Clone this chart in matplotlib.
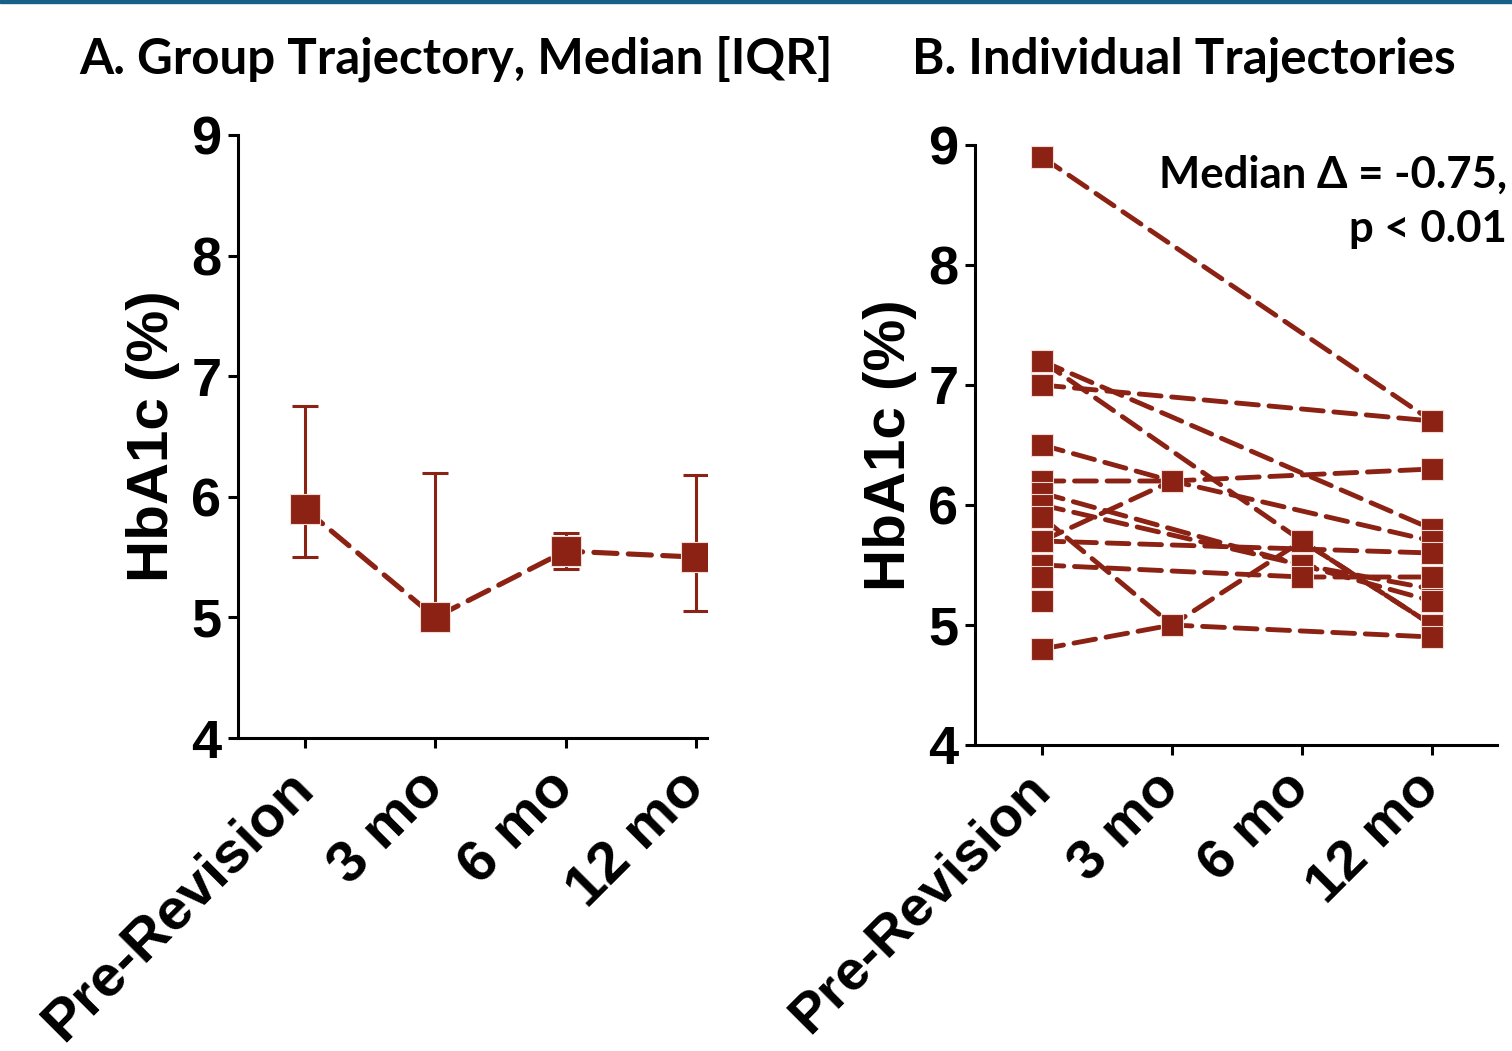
import numpy as np
import matplotlib
matplotlib.use('Agg')
import matplotlib.pyplot as plt
from matplotlib.patches import Rectangle

plt.rcParams['font.family'] = ['Liberation Sans', 'DejaVu Sans']
plt.rcParams['font.weight'] = 'bold'

times = ['Pre-Revision', '3 mo', '6 mo', '12 mo']

# A: median + IQR per time point
median = [5.9, 5.0, 5.55, 5.5]
q1 = [5.5, 5.0, 5.4, 5.05]
q3 = [6.75, 6.2, 5.7, 6.18]

# B: one entry per patient, nan = not measured
nan = np.nan
pre = [8.9, 7.2, 7.2, 7.0, 6.5, 6.2, 6.1, 6.0, 5.9, 5.7, 5.7, 5.5, 5.4, 5.2, 4.8]
mo3 = [nan, nan, nan, nan, 6.2, 6.2, nan, nan, 5.0, 6.2, nan, nan, nan, nan, 5.0]
mo6 = [nan, nan, 5.7, nan, nan, nan, 5.5, 5.5, 5.7, nan, nan, 5.4, nan, nan, nan]
mo12 = [6.7, 5.8, 5.0, 6.7, 5.7, 6.3, 5.3, 5.2, 5.0, nan, 5.6, 5.4, nan, nan, 4.9]

red = '#8b2213'
dash = (0, (4.5, 2.2))
x = np.arange(len(times))

fig = plt.figure(figsize=(15.12, 10.51), dpi=100)
fig.patches.append(Rectangle((0, 1 - 3 / 1051), 1, 3 / 1051, transform=fig.transFigure,
                             color='#186087', zorder=10))

axA = fig.add_axes([238 / 1512, 1 - 738 / 1051, 469 / 1512, 603 / 1051])
axB = fig.add_axes([975 / 1512, 1 - 745 / 1051, 522 / 1512, 600 / 1051])


def style(ax, xlim, xsize, xpad):
    ax.spines[['top', 'right']].set_visible(False)
    ax.spines[['left', 'bottom']].set_linewidth(2.2)
    ax.set_ylim(4, 9)
    ax.set_yticks(range(4, 10))
    ax.set_xlim(*xlim)
    ax.set_xticks(x)
    ax.set_xticklabels(times, rotation=45, ha='right', va='center', rotation_mode='anchor')
    ax.tick_params(width=2.2, length=7)
    ax.tick_params(axis='y', labelsize=39, pad=5)
    ax.tick_params(axis='x', labelsize=xsize, pad=xpad)
    ax.set_ylabel('HbA1c (%)', fontsize=42, fontweight='bold', labelpad=8)


# Panel A
med = np.array(median)
axA.errorbar(x, med, yerr=[med - np.array(q1), np.array(q3) - med], fmt='none',
             ecolor=red, elinewidth=2.2, capsize=9.5, capthick=2.2)
axA.plot(x, med, color=red, linestyle=dash, lw=3.7, dash_capstyle='round',
         marker='s', ms=21, mfc=red, mec='#f3dcd8', mew=0.8)
style(axA, (-0.512, 3.084), 42, 23)

# Panel B
for vals in zip(pre, mo3, mo6, mo12):
    v = np.array(vals)
    m = ~np.isnan(v)
    axB.plot(x[m], v[m], color=red, linestyle=dash, lw=3.5, dash_capstyle='round',
             marker='s', ms=16, mfc=red, mec='#f3dcd8', mew=0.8)
style(axB, (-0.515, 3.5), 40.5, 19)

fig.text(456 / 1512, 1 - 73 / 1051, 'A. Group Trajectory, Median [IQR]', family='Lato',
         fontsize=35.5, ha='center', va='baseline')
fig.text(1184 / 1512, 1 - 73 / 1051, 'B. Individual Trajectories', family='Lato',
         fontsize=35.5, ha='center', va='baseline')
fig.text(1507 / 1512, 1 - 188 / 1051, 'Median \u0394 = -0.75,', family='Lato',
         fontsize=31.5, ha='right', va='baseline')
fig.text(1507 / 1512, 1 - 242 / 1051, 'p < 0.01', family='Lato',
         fontsize=31.5, ha='right', va='baseline')

fig.savefig('out.png', dpi=100)
